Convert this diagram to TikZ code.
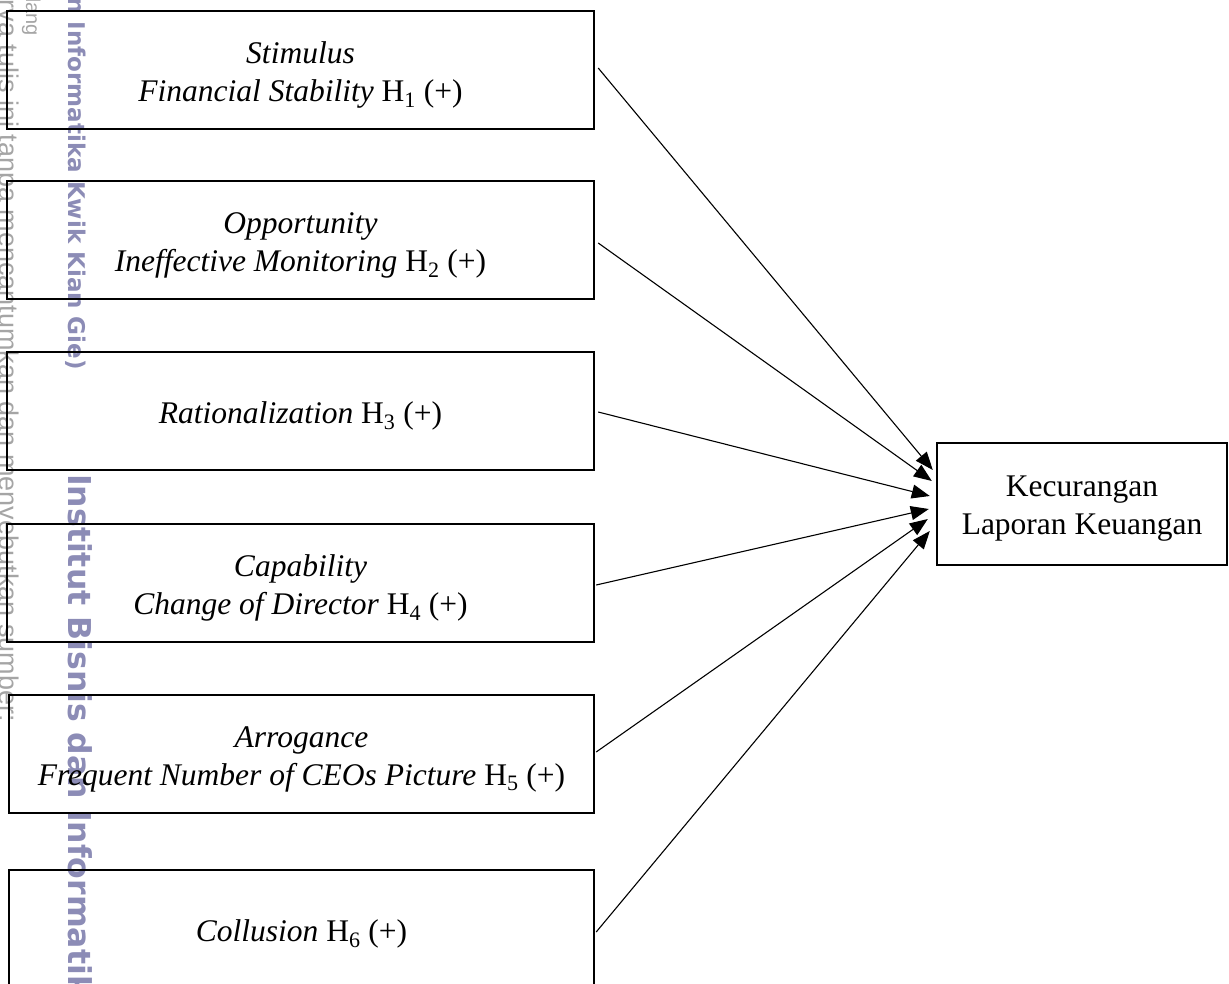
\documentclass[tikz,border=0pt]{standalone}
\usepackage{fontspec}
\setmainfont{Liberation Serif}
\newfontfamily\wmfont{DejaVu Sans}
\newfontfamily\notefont{Liberation Sans}
\usetikzlibrary{arrows.meta}
\definecolor{wmblue}{RGB}{140,140,182}
\definecolor{notegrey}{RGB}{165,165,165}

\begin{document}
\begin{tikzpicture}[x=1pt,y=-1pt,
  factor/.style={draw,line width=2.4pt,minimum width=587pt,minimum height=118pt,inner sep=0pt},
  ftext/.style={align=center,inner sep=0pt,yshift=-5pt,font=\fontsize{31.5}{38}\selectfont},
  link/.style={line width=1.1pt,-{Triangle[length=18pt,width=14pt]}},
  wm/.style={text=wmblue,inner sep=0pt,rotate=-90,font=\wmfont\bfseries\fontsize{31.5}{33}\selectfont},
  note/.style={text=notegrey,inner sep=0pt,rotate=-90,font=\notefont\fontsize{27}{29}\selectfont}]
\useasboundingbox (0,0) rectangle (1229,984);

% repository watermark along the left margin
\node[note,anchor=base east] (n1) at (-1,722) {Dilarang mengutip sebagian atau seluruh karya tulis ini tanpa mencantumkan dan menyebutkan sumber:};
\node[note,anchor=base east,font=\notefont\fontsize{20}{22}\selectfont] (n2) at (26,36) {Hak Cipta Dilindungi Undang-Undang};
\node[wm,anchor=base east,font=\wmfont\bfseries\fontsize{23}{25}\selectfont] (wmtop) at (68,370) {Institut Bisnis dan Informatika Kwik Kian Gie)};
\node[wm,anchor=base west] (wmbot) at (68,474) {Institut Bisnis dan Informatika Kwik Kian Gie)};

% independent variables
\node[factor,label={[ftext]center:{\textit{Stimulus}\\\textit{Financial Stability} H\textsubscript{1} (+)}}] (f1) at (300.5,70) {};
\node[factor,label={[ftext]center:{\textit{Opportunity}\\\textit{Ineffective Monitoring} H\textsubscript{2} (+)}}] (f2) at (300.5,240) {};
\node[factor,label={[ftext]center:{\textit{Rationalization} H\textsubscript{3} (+)}}] (f3) at (300.5,411) {};
\node[factor,label={[ftext]center:{\textit{Capability}\\\textit{Change of Director} H\textsubscript{4} (+)}}] (f4) at (300.5,583) {};
\node[factor,minimum width=585pt,label={[ftext]center:{\textit{Arrogance}\\\textit{Frequent Number of CEOs Picture} H\textsubscript{5} (+)}}] (f5) at (301.5,754) {};
\node[factor,minimum width=585pt,label={[ftext]center:{\textit{Collusion} H\textsubscript{6} (+)}}] (f6) at (301.5,929) {};

% dependent variable
\node[factor,minimum width=290pt,minimum height=122pt,label={[ftext]center:{Kecurangan\\Laporan Keuangan}}] (dv) at (1082,504) {};

% hypothesised effects
\draw[link] ([shift={(3,-2)}]f1.east) -- ([shift={(-3,-34)}]dv.west);
\draw[link] ([shift={(3,3)}]f2.east) -- ([shift={(-4,-23)}]dv.west);
\draw[link] ([shift={(3,1)}]f3.east) -- ([shift={(-6,-8)}]dv.west);
\draw[link] ([shift={(1,2)}]f4.east) -- ([shift={(-7,5)}]dv.west);
\draw[link] ([shift={(1,-2)}]f5.east) -- ([shift={(-8,15)}]dv.west);
\draw[link] ([shift={(1,3)}]f6.east) -- ([shift={(-6,27)}]dv.west);
\end{tikzpicture}
\end{document}
